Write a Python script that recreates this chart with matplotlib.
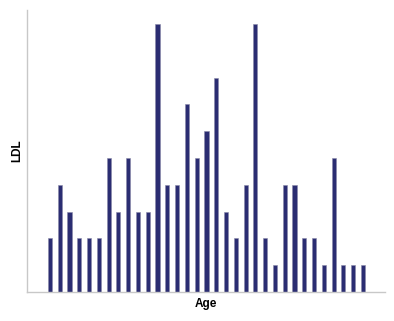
import matplotlib
matplotlib.use("Agg")
import matplotlib.pyplot as plt

# LDL counts per age bin
ages = list(range(33))
ldl = [2, 4, 3, 2, 2, 2, 5, 3, 5, 3, 3, 10, 4, 4, 7, 5, 6, 8, 3, 2, 4, 10,
       2, 1, 4, 4, 2, 2, 1, 5, 1, 1, 1]

plt.rcParams["font.family"] = ["Liberation Sans", "DejaVu Sans"]

fig = plt.figure(figsize=(3.94, 3.21), dpi=100)
ax = fig.add_axes([0.0685, 0.0903, 0.9085, 0.8785])

ax.bar(ages, ldl, width=0.42, color="#2b2d72", edgecolor="#8a8aa8", linewidth=0.4)

ax.set_xlim(-2.35, len(ages) - 1 + 2.25)
ax.set_ylim(0, 10.52)
ax.set_xticks([])
ax.set_yticks([])
for side in ["top", "right"]:
    ax.spines[side].set_visible(False)
for side in ["left", "bottom"]:
    ax.spines[side].set_color("#c8c8c8")
    ax.spines[side].set_linewidth(1)

ax.set_xlabel("Age", fontsize=8.5, fontweight="bold", labelpad=4)
ax.set_ylabel("LDL", fontsize=8.5, fontweight="bold", labelpad=3)

fig.savefig("out.png", dpi=100)
